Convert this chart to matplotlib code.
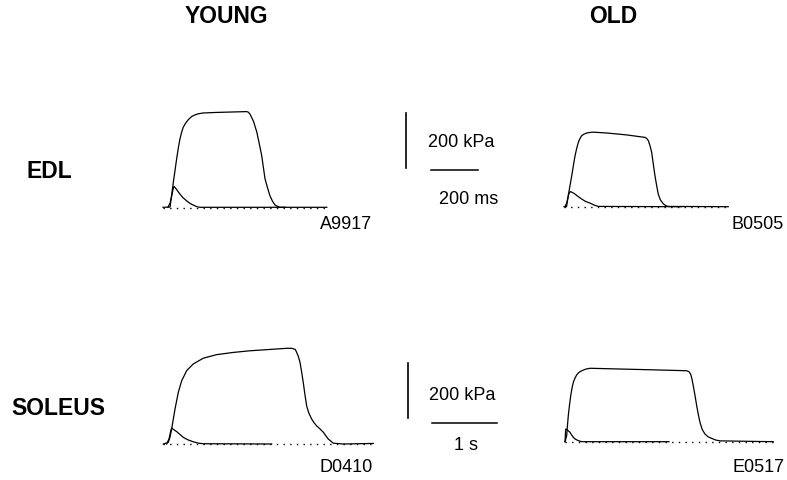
import matplotlib.pyplot as plt

plt.rcParams['font.family'] = ['Liberation Sans', 'DejaVu Sans']

# --- data: time (ms), stress (kPa) ---
# EDL young (A9917)
edl_y_tet_t = [0, 30, 44, 58, 65, 72, 79, 86, 97, 108, 122, 136, 150, 171, 228, 356, 363,
               370, 385, 399, 410, 420, 434, 445, 455, 466, 477, 488, 498, 697]
edl_y_tet_s = [0, 1, 91, 176, 215, 248, 272, 291, 307, 319, 330, 336, 340, 343, 345, 348, 346,
               339, 313, 274, 230, 188, 104, 70, 42, 22, 8, 3, 0, 0]
edl_y_tw_t = [21, 30, 38, 44, 47, 55, 72, 85, 100, 115, 129, 145, 157, 520]
edl_y_tw_s = [0, 15, 45, 70, 76, 68, 48, 35, 24, 14, 8, 2, 0, 0]

# EDL old (B0505)
edl_o_tet_t = [0, 11, 18, 33, 40, 47, 54, 61, 68, 75, 85, 97, 110, 125, 182, 267, 345, 352,
               359, 366, 373, 380, 387, 394, 401, 410, 423, 433, 444, 699]
edl_o_tet_s = [0, 0, 40, 113, 150, 185, 212, 234, 248, 258, 264, 268, 270, 271, 268, 261, 252, 248,
               240, 222, 198, 155, 113, 78, 46, 25, 10, 4, 1, 0]
edl_o_tw_t = [4, 12, 20, 26, 33, 47, 60, 75, 92, 111, 128, 146, 500]
edl_o_tw_s = [0, 15, 45, 55, 53, 46, 37, 28, 19, 13, 6, 1, 0]

# Soleus young (D0410)
sol_y_tet_t = [0, 77, 103, 129, 155, 180, 231, 283, 360, 461, 615, 821, 1077, 1333, 1590, 1898, 1975,
               2030, 2052, 2078, 2103, 2128, 2153, 2180, 2206, 2240, 2282, 2320, 2359, 2410, 2461,
               2500, 2538, 2580, 2615, 2768, 3230]
sol_y_tet_s = [0, 6, 25, 55, 92, 127, 188, 230, 267, 291, 312, 325, 333, 339, 343, 348, 348,
               344, 333, 318, 297, 262, 224, 178, 138, 112, 91, 77, 66, 55, 43,
               30, 18, 10, 3, 0, 2]
sol_y_tw_t = [52, 90, 115, 129, 150, 206, 260, 308, 380, 461, 540, 615, 1667]
sol_y_tw_s = [0, 20, 48, 58, 54, 45, 34, 24, 15, 8, 3, 1, 0]

# Soleus old (E0517)
sol_o_tet_t = [0, 10, 26, 38, 51, 70, 88, 108, 128, 155, 180, 215, 257, 320, 385, 897, 1410, 1872,
               1905, 1933, 1953, 1973, 2000, 2026, 2050, 2076, 2110, 2153, 2200, 2256, 2320, 2384, 3204]
sol_o_tet_s = [0, 8, 22, 60, 95, 135, 167, 195, 216, 232, 243, 252, 258, 264, 267, 264, 261, 258,
               255, 246, 228, 204, 168, 131, 100, 71, 45, 28, 18, 12, 6, 3, 0]
sol_o_tw_t = [0, 11, 30, 77, 100, 128, 160, 205, 240, 282, 1600]
sol_o_tw_s = [0, 46, 44, 34, 25, 16, 9, 4, 1, 0, 0]

W, H = 787, 481
KPA_PX = 200 / 55          # 200 kPa bar is 55 px tall
MS_PX_EDL = 200 / 47       # 200 ms bar is 47 px long
MS_PX_SOL = 1000 / 65      # 1 s bar is 65 px long


def add_panel(fig, x0, y0, ms_px, left=15, right=230, up=115, down=12):
    ax = fig.add_axes([(x0 - left) / W, 1 - (y0 + down) / H,
                       (left + right) / W, (up + down) / H])
    ax.set_xlim(-left * ms_px, right * ms_px)
    ax.set_ylim(-down * KPA_PX, up * KPA_PX)
    ax.axis('off')
    return ax


def draw_traces(ax, tet_t, tet_s, tw_t, tw_s):
    ax.plot([0, tet_t[-1]], [-1, -1], color='black', lw=1.0,
            linestyle=(0, (1, 3.8)))
    ax.plot(tw_t, tw_s, color='black', lw=0.9)
    ax.plot(tet_t, tet_s, color='black', lw=0.9)


fig = plt.figure(figsize=(W / 100, H / 100), dpi=100)

ax = add_panel(fig, 163, 208.3, MS_PX_EDL)
draw_traces(ax, edl_y_tet_t, edl_y_tet_s, edl_y_tw_t, edl_y_tw_s)
ax = add_panel(fig, 564, 207.7, MS_PX_EDL)
draw_traces(ax, edl_o_tet_t, edl_o_tet_s, edl_o_tw_t, edl_o_tw_s)
ax = add_panel(fig, 163.3, 445, MS_PX_SOL)
draw_traces(ax, sol_y_tet_t, sol_y_tet_s, sol_y_tw_t, sol_y_tw_s)
ax = add_panel(fig, 565, 442.7, MS_PX_SOL)
draw_traces(ax, sol_o_tet_t, sol_o_tet_s, sol_o_tw_t, sol_o_tw_s)

# scale bars
ax = add_panel(fig, 431, 170.7, MS_PX_EDL, left=40, right=60, up=70, down=10)
ax.plot([0, 200], [0, 0], color='black', lw=1.1)
ax.plot([-25.5 * MS_PX_EDL] * 2, [6, 206], color='black', lw=1.2)
ax = add_panel(fig, 432, 424, MS_PX_SOL, left=40, right=80, up=70, down=10)
ax.plot([0, 1000], [0, 0], color='black', lw=1.1)
ax.plot([-24.3 * MS_PX_SOL] * 2, [18, 218], color='black', lw=1.2)


def label(x, y, s, size=13, bold=False):
    fig.text(x / W, 1 - y / H, s, ha='center', va='baseline', fontsize=size,
             fontweight='bold' if bold else 'normal')


label(226, 23, 'YOUNG', 16.5, True)
label(613, 23, 'OLD', 16.5, True)
label(49, 178, 'EDL', 16.5, True)
label(58.5, 415, 'SOLEUS', 16.5, True)

label(346, 229, 'A9917')
label(758, 229, 'B0505')
label(346, 472, 'D0410')
label(758, 472, 'E0517')

label(461.5, 147, '200 kPa')
label(469, 203.5, '200 ms')
label(462, 400, '200 kPa')
label(466, 450, '1 s')

fig.savefig('out.png', dpi=100)
